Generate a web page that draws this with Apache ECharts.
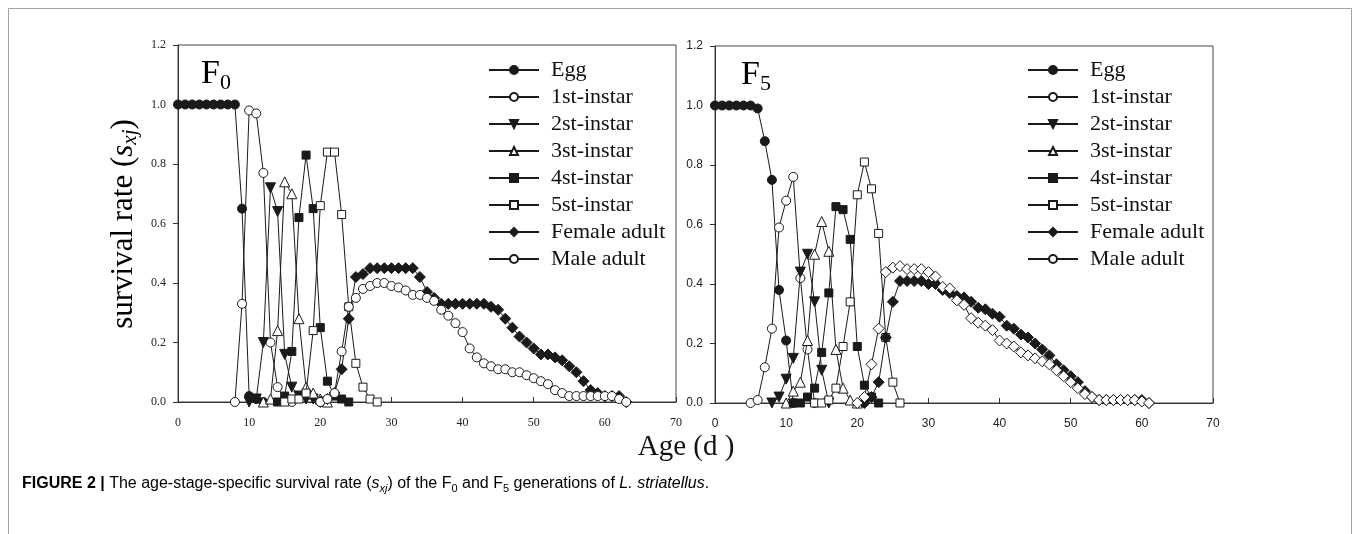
<!DOCTYPE html>
<html>
<head>
<meta charset="utf-8">
<script src="https://cdn.jsdelivr.net/npm/echarts@6.0.0/dist/echarts.min.js"></script>
<style>
  html, body { margin: 0; padding: 0; background: #fff; }
  #chart { width: 1360px; height: 534px; }
</style>
</head>
<body>
<div id="chart"></div>
<script>
// stage names, in legend order
var stageNames = ['Egg', '1st-instar', '2st-instar', '3st-instar', '4st-instar', '5st-instar', 'Female adult', 'Male adult']

// first age (d) of each stage curve
var f0StartDay = [0, 8, 10, 12, 14, 15, 20, 20]
var f5StartDay = [0, 5, 8, 10, 11, 14, 21, 20]

// F0 survival rates, one value per day from the start day
var f0Egg = [1, 1, 1, 1, 1, 1, 1, 1, 1, 0.65, 0.02, 0.01, 0]
var f0First = [0, 0.33, 0.98, 0.97, 0.77, 0.2, 0.05, 0.01, 0]
var f0Second = [0, 0.01, 0.2, 0.72, 0.64, 0.16, 0.05, 0.02, 0.01, 0.01, 0]
var f0Third = [0, 0.01, 0.24, 0.74, 0.7, 0.28, 0.05, 0.03, 0.01, 0]
var f0Fourth = [0, 0.02, 0.17, 0.62, 0.83, 0.65, 0.25, 0.07, 0.02, 0.01, 0]
var f0Fifth = [0, 0.01, 0.01, 0.03, 0.24, 0.66, 0.84, 0.84, 0.63, 0.32, 0.13, 0.05, 0.01, 0]
var f0Female = [0, 0.01, 0.03, 0.11, 0.28, 0.42, 0.43, 0.45, 0.45, 0.45, 0.45, 0.45, 0.45, 0.45,
  0.42, 0.37, 0.35, 0.33, 0.33, 0.33, 0.33, 0.33, 0.33, 0.33, 0.32, 0.31, 0.28, 0.25, 0.22,
  0.2, 0.18, 0.16, 0.16, 0.15, 0.14, 0.12, 0.1, 0.07, 0.04, 0.03, 0.02, 0.02, 0.02, 0]
var f0Male = [0, 0.01, 0.03, 0.17, 0.32, 0.35, 0.38, 0.39, 0.4, 0.4, 0.39, 0.385, 0.375, 0.36,
  0.36, 0.35, 0.34, 0.31, 0.29, 0.265, 0.235, 0.18, 0.15, 0.13, 0.12, 0.11, 0.11, 0.1, 0.1,
  0.09, 0.08, 0.07, 0.06, 0.04, 0.03, 0.02, 0.02, 0.02, 0.02, 0.02, 0.02, 0.02, 0.01, 0]

// F5 survival rates
var f5Egg = [1, 1, 1, 1, 1, 1, 0.99, 0.88, 0.75, 0.38, 0.21, 0]
var f5First = [0, 0.01, 0.12, 0.25, 0.59, 0.68, 0.76, 0.42, 0.18, 0]
var f5Second = [0, 0.02, 0.08, 0.15, 0.44, 0.5, 0.34, 0.11, 0]
var f5Third = [0, 0.04, 0.07, 0.21, 0.5, 0.61, 0.51, 0.18, 0.05, 0.01, 0]
var f5Fourth = [0, 0, 0.02, 0.05, 0.17, 0.37, 0.66, 0.65, 0.55, 0.19, 0.06, 0.02, 0]
var f5Fifth = [0, 0, 0.01, 0.05, 0.19, 0.34, 0.7, 0.81, 0.72, 0.57, 0.22, 0.07, 0]
var f5Female = [0, 0.02, 0.07, 0.22, 0.34, 0.41, 0.41, 0.41, 0.41, 0.4, 0.4, 0.38, 0.37, 0.36,
  0.355, 0.34, 0.32, 0.315, 0.3, 0.29, 0.26, 0.25, 0.23, 0.22, 0.2, 0.18, 0.16, 0.13, 0.11,
  0.09, 0.07, 0.04, 0.02, 0.01, 0.01, 0.01, 0.01, 0.01, 0.01, 0.01, 0]
var f5Male = [0, 0.02, 0.13, 0.25, 0.44, 0.455, 0.46, 0.45, 0.45, 0.45, 0.44, 0.425, 0.39, 0.385,
  0.345, 0.33, 0.285, 0.27, 0.26, 0.245, 0.21, 0.2, 0.19, 0.17, 0.16, 0.15, 0.14, 0.13, 0.11,
  0.09, 0.07, 0.05, 0.03, 0.02, 0.01, 0.01, 0.01, 0.01, 0.01, 0.01, 0.005, 0]

// axis ticks
var ageTicks = { min: 0, max: 70, interval: 10 }
var rateTicks = { min: 0, max: 1.2, interval: 0.2 }

var f0Values = [f0Egg, f0First, f0Second, f0Third, f0Fourth, f0Fifth, f0Female, f0Male]
var f5Values = [f5Egg, f5First, f5Second, f5Third, f5Fourth, f5Fifth, f5Female, f5Male]

var serif = 'Liberation Serif'
var sans = 'Liberation Sans'
var ink = '#1a1a1a'

// marker for each stage: [symbol, filled, size, rotate]
var markers = [
  ['circle', true, 9, 0],
  ['circle', false, 9, 0],
  ['triangle', true, 10, 180],
  ['triangle', false, 10, 0],
  ['rect', true, 8, 0],
  ['rect', false, 8, 0],
  ['diamond', true, 11, 0],
  ['circle', false, 9, 0]
]

function buildSeries(values, starts, axisIndex, maleSymbol) {
  return stageNames.map(function(name, i) {
    var m = markers[i]
    var symbol = i === 7 ? maleSymbol : m[0]
    var size = i === 7 && maleSymbol === 'diamond' ? 11 : m[2]
    return {
      name: name,
      type: 'line',
      xAxisIndex: axisIndex,
      yAxisIndex: axisIndex,
      data: values[i].map(function(v, k) { return [starts[i] + k, v] }),
      symbol: symbol,
      symbolSize: size,
      symbolRotate: m[3],
      showAllSymbol: true,
      lineStyle: { color: ink, width: 1 },
      itemStyle: { color: m[1] ? ink : '#fff', borderColor: ink, borderWidth: 1 },
      emphasis: { disabled: true },
      z: 2 + i
    }
  })
}

function xAxisFor(gridIndex, font) {
  return {
    type: 'value',
    gridIndex: gridIndex,
    min: ageTicks.min,
    max: ageTicks.max,
    interval: ageTicks.interval,
    axisLine: { lineStyle: { color: '#333', width: 1 } },
    axisTick: { inside: true, length: 5, lineStyle: { color: '#333' } },
    axisLabel: { margin: 15, fontFamily: font, fontSize: 12, color: '#222' },
    splitLine: { show: false }
  }
}

function yAxisFor(gridIndex, font) {
  return {
    type: 'value',
    gridIndex: gridIndex,
    min: rateTicks.min,
    max: rateTicks.max,
    interval: rateTicks.interval,
    axisLine: { show: true, lineStyle: { color: '#333', width: 1 } },
    axisTick: { show: true, inside: false, length: 5, lineStyle: { color: '#333' } },
    axisLabel: {
      margin: 12, fontFamily: font, fontSize: 12, color: '#222',
      formatter: function(v) { return v.toFixed(1) }
    },
    splitLine: { show: false }
  }
}

function legendAt(left) {
  return {
    orient: 'vertical',
    left: left,
    top: 54,
    itemWidth: 50,
    itemHeight: 10,
    itemGap: 5,
    selectedMode: false,
    data: stageNames,
    textStyle: { fontFamily: serif, fontSize: 22, color: '#111', lineHeight: 22, padding: [0, 0, 0, 7] }
  }
}

var subRich = {
  f: { fontFamily: serif, fontSize: 34, color: '#111', lineHeight: 40 },
  s: { fontFamily: serif, fontSize: 22, color: '#111', lineHeight: 24, verticalAlign: 'bottom' }
}

var option = {
  animation: false,
  backgroundColor: '#fff',
  grid: [
    { left: 178, top: 45, width: 498, height: 357, show: true, borderColor: '#444', borderWidth: 1, backgroundColor: 'transparent' },
    { left: 715, top: 46, width: 498, height: 357, show: true, borderColor: '#444', borderWidth: 1, backgroundColor: 'transparent' }
  ],
  xAxis: [xAxisFor(0, serif), xAxisFor(1, sans)],
  yAxis: [yAxisFor(0, serif), yAxisFor(1, sans)],
  legend: [legendAt(483), legendAt(1022)],
  series: buildSeries(f0Values, f0StartDay, 0, 'circle').concat(buildSeries(f5Values, f5StartDay, 1, 'diamond')),
  graphic: [
    {
      type: 'rect', silent: true,
      shape: { x: 8.5, y: 8.5, width: 1343, height: 540 },
      style: { fill: 'none', stroke: '#a0a0a0', lineWidth: 1 }
    },
    {
      type: 'text', x: 201, y: 54,
      style: { text: '{f|F}{s|0}', rich: subRich, align: 'left', verticalAlign: 'top' }
    },
    {
      type: 'text', x: 741, y: 55,
      style: { text: '{f|F}{s|5}', rich: subRich, align: 'left', verticalAlign: 'top' }
    },
    {
      type: 'text', x: 124, y: 224, rotation: Math.PI / 2,
      style: {
        text: '{n|survival rate (}{i|s}{b|xj}{n|)}',
        align: 'center', verticalAlign: 'middle',
        rich: {
          n: { fontFamily: serif, fontSize: 31, color: '#111', lineHeight: 34 },
          i: { fontFamily: serif, fontSize: 31, fontStyle: 'italic', color: '#111', lineHeight: 34 },
          b: { fontFamily: serif, fontSize: 21, fontStyle: 'italic', color: '#111', lineHeight: 26, verticalAlign: 'bottom' }
        }
      }
    },
    {
      type: 'text', x: 686, y: 447,
      style: { text: 'Age (d )', fontFamily: serif, fontSize: 29, fill: '#111', align: 'center', verticalAlign: 'middle' }
    },
    {
      type: 'text', x: 22, y: 484,
      style: {
        text: '{b|FIGURE 2 |}{n| The age-stage-specific survival rate (}{i|s}{is|xj}{n|) of the F}{s|0}{n| and F}{s|5}{n| generations of }{i|L. striatellus}{n|.}',
        align: 'left', verticalAlign: 'middle',
        rich: {
          b: { fontFamily: sans, fontSize: 16, fontWeight: 'bold', color: '#222', lineHeight: 20 },
          n: { fontFamily: sans, fontSize: 16, color: '#333', lineHeight: 20 },
          i: { fontFamily: sans, fontSize: 16, fontStyle: 'italic', color: '#333', lineHeight: 20 },
          is: { fontFamily: sans, fontSize: 11, fontStyle: 'italic', color: '#333', lineHeight: 12, verticalAlign: 'bottom' },
          s: { fontFamily: sans, fontSize: 11, color: '#333', lineHeight: 12, verticalAlign: 'bottom' }
        }
      }
    }
  ]
}

var myChart = echarts.init(document.getElementById('chart'))
myChart.setOption(option)
</script>
</body>
</html>
